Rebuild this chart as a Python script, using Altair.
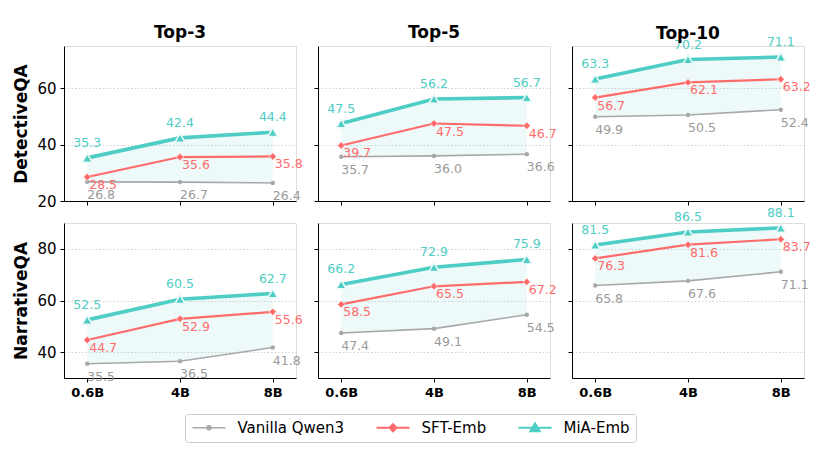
import altair as alt
import pandas as pd

sizes = ["0.6B", "4B", "8B"]
datasets = ["DetectiveQA", "NarrativeQA"]
topks = ["Top-3", "Top-5", "Top-10"]
series = ["Vanilla Qwen3", "SFT-Emb", "MiA-Emb"]
colors = ["#a8a8a8", "#ff6b6b", "#4ecdc4"]
text_colors = ["#9a9a9a", "#ff6b6b", "#4ecdc4"]

# DetectiveQA
det_top3_vanilla = [26.8, 26.7, 26.4]
det_top3_sft = [28.5, 35.6, 35.8]
det_top3_mia = [35.3, 42.4, 44.4]
det_top5_vanilla = [35.7, 36.0, 36.6]
det_top5_sft = [39.7, 47.5, 46.7]
det_top5_mia = [47.5, 56.2, 56.7]
det_top10_vanilla = [49.9, 50.5, 52.4]
det_top10_sft = [56.7, 62.1, 63.2]
det_top10_mia = [63.3, 70.2, 71.1]
# NarrativeQA
nar_top3_vanilla = [35.5, 36.5, 41.8]
nar_top3_sft = [44.7, 52.9, 55.6]
nar_top3_mia = [52.5, 60.5, 62.7]
nar_top5_vanilla = [47.4, 49.1, 54.5]
nar_top5_sft = [58.5, 65.5, 67.2]
nar_top5_mia = [66.2, 72.9, 75.9]
nar_top10_vanilla = [65.8, 67.6, 71.1]
nar_top10_sft = [76.3, 81.6, 83.7]
nar_top10_mia = [81.5, 86.5, 88.1]

values = {
    ("DetectiveQA", "Top-3"): (det_top3_vanilla, det_top3_sft, det_top3_mia),
    ("DetectiveQA", "Top-5"): (det_top5_vanilla, det_top5_sft, det_top5_mia),
    ("DetectiveQA", "Top-10"): (det_top10_vanilla, det_top10_sft, det_top10_mia),
    ("NarrativeQA", "Top-3"): (nar_top3_vanilla, nar_top3_sft, nar_top3_mia),
    ("NarrativeQA", "Top-5"): (nar_top5_vanilla, nar_top5_sft, nar_top5_mia),
    ("NarrativeQA", "Top-10"): (nar_top10_vanilla, nar_top10_sft, nar_top10_mia),
}
y_domains = {"DetectiveQA": [20, 75], "NarrativeQA": [30, 90]}
y_ticks = {"DetectiveQA": [20, 40, 60], "NarrativeQA": [40, 60, 80]}
title_offsets = {"Top-3": 4, "Top-5": 4, "Top-10": -7}

FONT = "DejaVu Sans"
W, H = 232, 155

# legend symbols: line + marker (unit = 6 px)
legend_paths = [
    "M-2.75,0L2.75,0M-0.33,0A0.33,0.33,0,1,0,0.33,0A0.33,0.33,0,1,0,-0.33,0Z",
    "M-2.75,0L2.75,0M0,-0.6L0.6,0L0,0.6L-0.6,0Z",
    "M-2.75,0L2.75,0M0,-0.7L0.75,0.55L-0.75,0.55Z",
]


def panel(ds, k, row, col):
    v, s, m = values[(ds, k)]
    long = pd.DataFrame(
        [{"size": sz, "series": nm, "value": val}
         for nm, arr in zip(series, (v, s, m)) for sz, val in zip(sizes, arr)]
    )
    wide = pd.DataFrame({"size": sizes, "low": v, "high": m})

    x = alt.X("size:N", sort=sizes,
              scale=alt.Scale(type="point", padding=0.25),
              axis=alt.Axis(title=None, labels=(row == 1), labelAngle=0,
                            labelFont=FONT, labelFontSize=13, labelFontWeight="bold",
                            labelColor="black", labelPadding=4, grid=False,
                            ticks=True, tickSize=4, domainColor="black",
                            tickColor="black"))
    yaxis = alt.Axis(title=(ds if col == 0 else None), titleFont=FONT,
                     titleFontSize=17, titleFontWeight="bold", titleColor="black",
                     titlePadding=6, values=y_ticks[ds], labels=(col == 0),
                     labelFont=FONT, labelFontSize=15, labelColor="black",
                     labelPadding=4, tickSize=4, tickColor="black",
                     domainColor="black", grid=True, gridColor="#c8c8c8",
                     gridDash=[1.5, 2], gridWidth=0.8)
    yscale = alt.Scale(domain=y_domains[ds], nice=False, zero=False)

    base = alt.Chart(long)
    area = alt.Chart(wide).mark_area(color="#4ecdc4", opacity=0.1).encode(
        x=x, y=alt.Y("low:Q", scale=yscale, axis=yaxis), y2="high:Q")

    layers = [area]
    widths = [1.6, 2.2, 3.6]
    for nm, c, w in zip(series, colors, widths):
        layers.append(base.transform_filter(alt.datum.series == nm).mark_line(
            color=c, strokeWidth=w).encode(
            x=x, y=alt.Y("value:Q", scale=yscale, axis=yaxis)))
    # markers
    layers.append(base.transform_filter(alt.datum.series == series[0]).mark_point(
        shape="circle", filled=True, color=colors[0], size=20, opacity=1).encode(
        x=x, y=alt.Y("value:Q", scale=yscale, axis=yaxis)))
    layers.append(base.transform_filter(alt.datum.series == series[1]).mark_point(
        shape="diamond", filled=True, fill=colors[1], stroke="white", strokeWidth=0.6,
        size=55, opacity=1).encode(
        x=x, y=alt.Y("value:Q", scale=yscale, axis=yaxis)))
    layers.append(base.transform_filter(alt.datum.series == series[2]).mark_point(
        shape="triangle-up", filled=True, fill=colors[2], stroke="#eafaf8",
        strokeWidth=1.6, size=100, opacity=1).encode(
        x=x, y=alt.Y("value:Q", scale=yscale, axis=yaxis)))
    # labels
    text_specs = [
        dict(dx=0, dy=13, align="left"),
        dict(dx=2, dy=8, align="left"),
        dict(dx=0, dy=-15, align="center"),
    ]
    for nm, c, sp in zip(series, text_colors, text_specs):
        layers.append(base.transform_filter(alt.datum.series == nm).mark_text(
            font=FONT, fontSize=12.5, color=c, baseline="middle", **sp).encode(
            x=x, y=alt.Y("value:Q", scale=yscale, axis=yaxis),
            text=alt.Text("value:Q", format=".1f")))

    if row == 0 and col == 0:
        leg = alt.Legend(title=None, orient="none", legendX=121, legendY=368,
                         direction="horizontal", columns=3, columnPadding=27,
                         labelFont=FONT, labelFontSize=15, labelColor="black",
                         symbolSize=144, symbolOffset=10.5, labelOffset=21,
                         padding=6, strokeColor="#cccccc", fillColor="white",
                         cornerRadius=3)
        dom = alt.Scale(domain=series, range=colors)
        layers.append(base.transform_filter("datum.value < -1000").mark_point(
            filled=True, opacity=1).encode(
            x=x, y=alt.Y("value:Q", scale=yscale, axis=yaxis),
            fill=alt.Fill("series:N", scale=dom, legend=leg),
            stroke=alt.Stroke("series:N", scale=dom, legend=leg),
            shape=alt.Shape("series:N", scale=alt.Scale(domain=series, range=legend_paths), legend=leg),
            strokeWidth=alt.StrokeWidth("series:N", scale=alt.Scale(domain=series, range=[1.6, 2.2, 4]), legend=leg),
        ))

    props = dict(width=W, height=H)
    if row == 0:
        props["title"] = alt.TitleParams(k, font=FONT, fontSize=17, fontWeight="bold",
                                         color="black", offset=title_offsets[k],
                                         frame="group")
    return alt.layer(*layers).properties(**props)


panels = [panel(ds, k, r, c) for r, ds in enumerate(datasets) for c, k in enumerate(topks)]

chart = alt.concat(*panels, columns=3, spacing=22, bounds="flush").properties(
    padding={"left": 4, "top": 15, "right": 5, "bottom": 5}
).configure_view(fill="#f8f8f8", stroke=None).configure(font=FONT)

chart.save("out.html", embed_options={"renderer": "svg", "actions": False})
